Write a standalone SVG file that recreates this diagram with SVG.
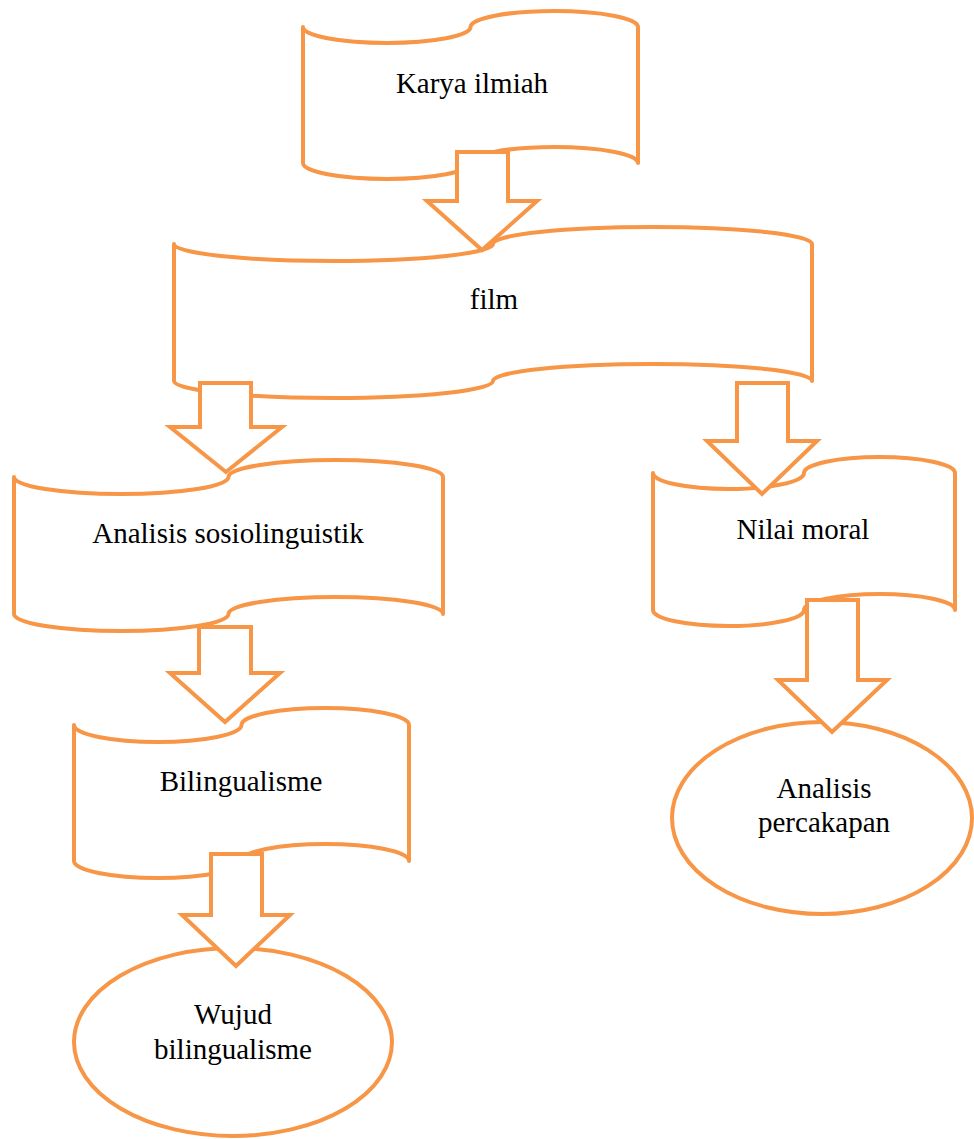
<svg xmlns="http://www.w3.org/2000/svg" width="974" height="1139" viewBox="0 0 974 1139">
<style>
.shape{fill:#ffffff;stroke:#F79646;stroke-width:4;stroke-linejoin:round}
.arrow{fill:#ffffff;stroke:#F79646;stroke-width:4;stroke-linejoin:miter;stroke-miterlimit:10}
.lbl{font-family:"Liberation Serif","Times New Roman",serif;font-size:29px;fill:#000000;text-anchor:middle}
</style>
<rect width="974" height="1139" fill="#ffffff"/>
<g id="node-karya">
<path class="shape" d="M303,27 A83.75,16 0 0 0 470.5,27 A83.75,16 0 0 1 638,27 L638,163 A83.75,16 0 0 0 470.5,163 A83.75,16 0 0 1 303,163 Z"/>
<text class="lbl" x="472" y="93">Karya ilmiah</text>
</g>
<g id="node-film">
<path class="shape" d="M174,244 A159.5,17 0 0 0 493,244 A159.5,17 0 0 1 812,244 L812,381 A159.5,17 0 0 0 493,381 A159.5,17 0 0 1 174,381 Z"/>
<text class="lbl" x="494" y="309">film</text>
</g>
<g id="node-sosio">
<path class="shape" d="M14,477 A107.25,17 0 0 0 228.5,477 A107.25,17 0 0 1 443,477 L443,614 A107.25,17 0 0 0 228.5,614 A107.25,17 0 0 1 14,614 Z"/>
<text class="lbl" x="228" y="543">Analisis sosiolinguistik</text>
</g>
<g id="node-nilai">
<path class="shape" d="M653,473 A75.5,16 0 0 0 804,473 A75.5,16 0 0 1 955,473 L955,610 A75.5,16 0 0 0 804,610 A75.5,16 0 0 1 653,610 Z"/>
<text class="lbl" x="803" y="539">Nilai moral</text>
</g>
<g id="node-bilingualisme">
<path class="shape" d="M74,725 A83.75,17 0 0 0 241.5,725 A83.75,17 0 0 1 409,725 L409,861 A83.75,17 0 0 0 241.5,861 A83.75,17 0 0 1 74,861 Z"/>
<text class="lbl" x="241" y="791">Bilingualisme</text>
</g>
<g id="node-wujud">
<ellipse class="shape" cx="233" cy="1042" rx="159" ry="94"/>
<text class="lbl" x="233" y="1024">Wujud</text>
<text class="lbl" x="233" y="1059">bilingualisme</text>
</g>
<g id="node-percakapan">
<ellipse class="shape" cx="822" cy="818" rx="150" ry="96"/>
<text class="lbl" x="824" y="798">Analisis</text>
<text class="lbl" x="824" y="832">percakapan</text>
</g>
<g id="connectors">
<polygon class="arrow" points="457,152 508,152 508,201 537,201 482,250 427,201 457,201"/>
<polygon class="arrow" points="200,383 251,383 251,427 282,427 226,472 170,427 200,427"/>
<polygon class="arrow" points="737,383 788,383 788,441 817,441 762,494 707,441 737,441"/>
<polygon class="arrow" points="199,627 251,627 251,673 280,673 225,722 170,673 199,673"/>
<polygon class="arrow" points="211,854 262,854 262,915 290,915 236,966 182,915 211,915"/>
<polygon class="arrow" points="807,600 858,600 858,680 887,680 832,732 778,680 807,680"/>
</g>
</svg>
